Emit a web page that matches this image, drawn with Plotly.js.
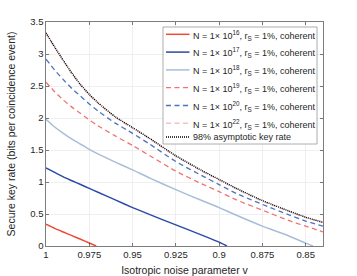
<!DOCTYPE html>
<html>
<head>
<meta charset="utf-8">
<script src="https://cdn.plot.ly/plotly-3.0.1.min.js"></script>
<style>html,body{margin:0;padding:0;background:#fff;}#chart{width:357px;height:276px;}</style>
</head>
<body>
<div id="chart"></div>
<script>
// ---- data ----
var vCommon = [1, 0.995, 0.99, 0.985, 0.98, 0.975, 0.97, 0.96, 0.95, 0.94, 0.925, 0.91, 0.9, 0.89, 0.875, 0.86, 0.85, 0.84];

var vN16 = [1, 0.995, 0.99, 0.985, 0.98, 0.975, 0.971];
var rateN16 = [0.34, 0.275, 0.218, 0.162, 0.105, 0.047, 0];

var vN17 = [1, 0.995, 0.99, 0.985, 0.98, 0.975, 0.97, 0.96, 0.95, 0.94, 0.925, 0.91, 0.9, 0.8955];
var rateN17 = [1.22, 1.15, 1.08, 1.02, 0.96, 0.90, 0.84, 0.72, 0.60, 0.49, 0.33, 0.17, 0.06, 0];

var vN18 = [1, 0.995, 0.99, 0.985, 0.98, 0.975, 0.97, 0.96, 0.95, 0.94, 0.925, 0.91, 0.9, 0.89, 0.875, 0.86, 0.85, 0.8458];
var rateN18 = [1.98, 1.86, 1.76, 1.67, 1.59, 1.51, 1.44, 1.31, 1.19, 1.06, 0.88, 0.71, 0.60, 0.48, 0.31, 0.16, 0.045, 0];

var rateN19 = [2.56, 2.41, 2.28, 2.17, 2.07, 1.97, 1.88, 1.72, 1.57, 1.41, 1.17, 0.97, 0.85, 0.72, 0.56, 0.40, 0.31, 0.22];
var rateN20 = [2.92, 2.75, 2.60, 2.46, 2.34, 2.22, 2.11, 1.92, 1.76, 1.59, 1.32, 1.10, 0.96, 0.82, 0.65, 0.49, 0.39, 0.31];
var rateN22 = [3.32, 3.10, 2.89, 2.69, 2.51, 2.36, 2.23, 2.01, 1.84, 1.67, 1.40, 1.17, 1.03, 0.89, 0.70, 0.545, 0.445, 0.365];
var rateAsym = [3.33, 3.11, 2.90, 2.70, 2.52, 2.37, 2.24, 2.02, 1.85, 1.68, 1.41, 1.18, 1.04, 0.90, 0.71, 0.55, 0.45, 0.37];

var seriesNames = [
  'N = 1\u00d7 10<sup>16</sup>, r<sub>S</sub> = 1%, coherent',
  'N = 1\u00d7 10<sup>17</sup>, r<sub>S</sub> = 1%, coherent',
  'N = 1\u00d7 10<sup>18</sup>, r<sub>S</sub> = 1%, coherent',
  'N = 1\u00d7 10<sup>19</sup>, r<sub>S</sub> = 1%, coherent',
  'N = 1\u00d7 10<sup>20</sup>, r<sub>S</sub> = 1%, coherent',
  'N = 1\u00d7 10<sup>22</sup>, r<sub>S</sub> = 1%, coherent',
  '98% asymptotic key rate'
];
var xTickVals = [1, 0.975, 0.95, 0.925, 0.9, 0.875, 0.85];
var xTickText = ['1', '0.975', '0.95', '0.925', '0.9', '0.875', '0.85'];

// ---- styles ----
var colors = ['#ef4a37', '#2c4aa6', '#a9bdd9', '#f07272', '#4a74c0', '#f5c2c2', '#000000'];
var dashes = ['solid', 'solid', 'solid', '5px,3.5px', '5px,3.5px', '5px,3.5px', '1px,1px'];
var widths = [1.5, 1.5, 1.5, 1.3, 1.3, 1.4, 1.4];

var xs = [vN16, vN17, vN18, vCommon, vCommon, vCommon, vCommon];
var ys = [rateN16, rateN17, rateN18, rateN19, rateN20, rateN22, rateAsym];

var traces = [];
for (var i = 0; i < xs.length; i++) {
  traces.push({
    x: xs[i], y: ys[i], name: seriesNames[i], type: 'scatter', mode: 'lines',
    line: {color: colors[i], width: widths[i], dash: dashes[i], shape: 'spline', smoothing: 0.6},
    showlegend: false, hoverinfo: 'skip'
  });
}

// ---- legend drawn in paper coordinates ----
var W = 357, H = 276, mL = 46, mR = 34, mT = 22, mB = 30;
var pw = W - mL - mR, ph = H - mT - mB;
function px(x) { return (x - mL) / pw; }
function py(y) { return (H - mB - y) / ph; }
var rowY = [34.3, 52.1, 69.9, 87.7, 105.5, 123.3, 137];
var shapes = [{
  type: 'rect', xref: 'paper', yref: 'paper',
  x0: px(163), x1: px(317), y0: py(144), y1: py(27),
  line: {color: '#9a9a9a', width: 0.8}, fillcolor: '#ffffff', layer: 'above'
}];
var annotations = [];
for (var j = 0; j < seriesNames.length; j++) {
  shapes.push({
    type: 'line', xref: 'paper', yref: 'paper',
    x0: px(166), x1: px(189.5), y0: py(rowY[j]), y1: py(rowY[j]),
    line: {color: colors[j], width: widths[j], dash: dashes[j]},
    layer: 'above'
  });
  annotations.push({
    xref: 'paper', yref: 'paper', x: px(190.5), y: py(rowY[j] + (j < 6 ? 0.8 : 0)),
    xanchor: 'left', yanchor: 'middle', showarrow: false,
    text: seriesNames[j], font: {size: 9, color: '#262626'}
  });
}

var fontFam = 'Liberation Sans, Arial, Helvetica, sans-serif';
var layout = {
  width: W, height: H,
  margin: {l: mL, r: mR, t: mT, b: mB, pad: 0},
  paper_bgcolor: '#ffffff', plot_bgcolor: '#ffffff',
  font: {family: fontFam, size: 9.5, color: '#262626'},
  showlegend: false,
  xaxis: {
    range: [1, 0.84], tickvals: xTickVals, ticktext: xTickText,
    ticks: 'inside', ticklen: 3, tickcolor: '#262626', tickwidth: 0.6,
    showline: true, linecolor: '#262626', linewidth: 0.6, mirror: 'ticks',
    showgrid: true, gridcolor: '#e4e4e4', gridwidth: 0.6, zeroline: false,
    title: {text: 'Isotropic noise parameter v', font: {size: 10.5, color: '#262626'}},
    tickfont: {size: 9.5}
  },
  yaxis: {
    range: [0, 3.5], dtick: 0.5, tick0: 0,
    ticks: 'inside', ticklen: 3, tickcolor: '#262626', tickwidth: 0.6,
    showline: true, linecolor: '#262626', linewidth: 0.6, mirror: 'ticks',
    showgrid: true, gridcolor: '#e4e4e4', gridwidth: 0.6, zeroline: false,
    title: {text: 'Secure key rate (bits per coincidence event)', font: {size: 10.5, color: '#262626'}},
    tickfont: {size: 9.5}
  },
  shapes: shapes,
  annotations: annotations
};

Plotly.newPlot('chart', traces, layout, {staticPlot: true, displayModeBar: false});
</script>
</body>
</html>
